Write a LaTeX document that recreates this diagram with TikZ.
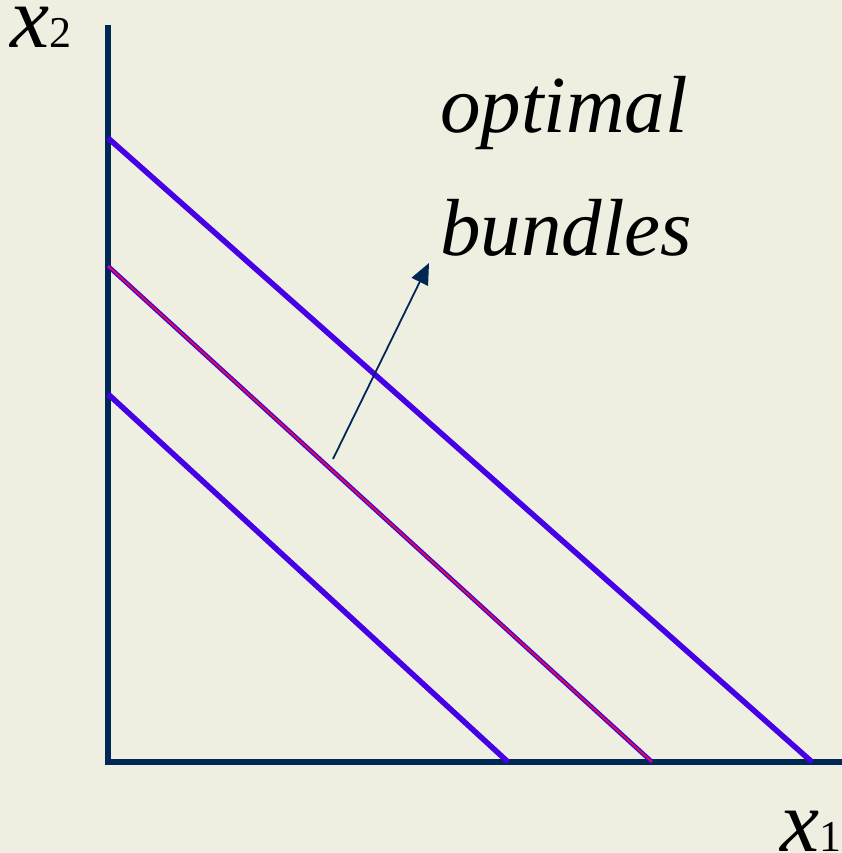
\documentclass[tikz,border=0pt]{standalone}
\usepackage{fontspec}
\setmainfont{Liberation Serif}
\usetikzlibrary{arrows.meta}
\definecolor{bgc}{RGB}{238,238,225}
\definecolor{axisc}{RGB}{0,40,85}
\definecolor{budc}{RGB}{70,0,230}
\definecolor{redc}{RGB}{230,20,40}
\tikzset{
  axisline/.style={draw=axisc,line width=5.5pt},
  budline/.style={draw=budc,line width=5.5pt},
  lbl/.style={inner sep=0pt,anchor=base west,font=\itshape\fontsize{81}{81}\selectfont},
  axlbl/.style={inner sep=0pt,anchor=base west},
  arr/.style={draw=axisc,line width=1.8pt,-{Triangle[length=21pt,width=18pt]}}
}
\newcommand{\axname}[1]{{\itshape\fontsize{88}{88}\selectfont x}{\fontsize{44}{44}\selectfont #1}}
\begin{document}
\begin{tikzpicture}[x=1pt,y=-1pt]
\fill[bgc] (0,0) rectangle (842,853);
\useasboundingbox (0,0) rectangle (842,853);
% axes
\coordinate (top) at (108,25);
\coordinate (orig) at (108,762);
\coordinate (right) at (842,762);
\draw[axisline] (top) -- (orig) -- (right);
% budget lines
\coordinate (a1) at (108,138); \coordinate (b1) at (812,762);
\coordinate (a2) at (108,266); \coordinate (b2) at (652,762);
\coordinate (a3) at (108,394); \coordinate (b3) at (508,762);
\draw[budline] (a1) -- (b1);
\draw[budline] (a3) -- (b3);
\draw[budline,line width=4.5pt] (a2) -- (b2);
\draw[redc,line width=1.6pt] (a2) -- (b2);
% arrow
\coordinate (s) at (333,459);
\coordinate (e) at (429,263);
\draw[arr] (s) -- (e);
% labels
\node[lbl] (opt) at (440,133) {optimal};
\node[lbl] (bun) at (440,255) {bundles};
\node[axlbl] (x2) at (10,48) {\axname{2}};
\node[axlbl] (x1) at (780,851) {\axname{1}};
\end{tikzpicture}
\end{document}
